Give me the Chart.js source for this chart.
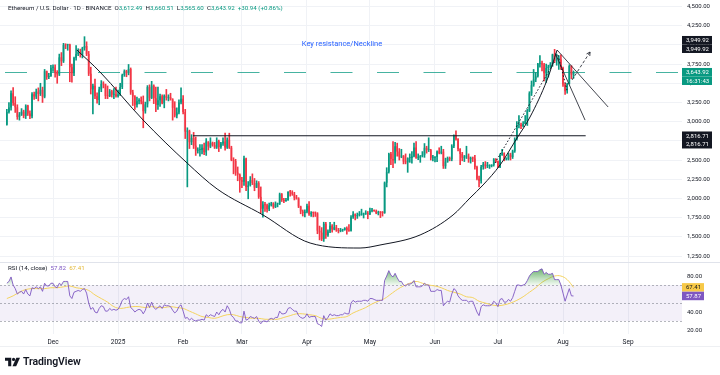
<!DOCTYPE html>
<html>
<head>
<meta charset="utf-8">
<script src="https://cdn.jsdelivr.net/npm/chart.js@4.4.1/dist/chart.umd.min.js"></script>
<style>
  html, body { margin: 0; padding: 0; background: #fff; }
  body { width: 720px; height: 375px; position: relative; overflow: hidden; font-family: Roboto, "Noto Sans", sans-serif; color: #131722; }
  #wrap { position: absolute; left: 0; top: 0; width: 720px; height: 348px; }
  .txt { position: absolute; white-space: nowrap; font-size: 6.2px; line-height: 8px; }
  .g { color: #089981; }
  #logo { position: absolute; left: 5px; top: 355px; display: flex; align-items: center; gap: 3px; font-size: 10.5px; font-weight: 600; letter-spacing: -0.1px; }
  #rule { position: absolute; left: 0; top: 346px; width: 720px; height: 1px; background: #eef0f3; }
</style>
</head>
<body>
<div id="wrap"><canvas id="chart"></canvas></div>
<div class="txt" style="left:8px; top:4px">Ethereum / U.S. Dollar · 1D · BINANCE &nbsp;O<span class="g">3,612.49</span> &nbsp;H<span class="g">3,660.51</span> &nbsp;L<span class="g">3,565.60</span> &nbsp;C<span class="g">3,643.92</span> &nbsp;<span class="g">+30.94 (+0.86%)</span></div>
<div class="txt" style="left:8px; top:264px">RSI (14, close) &nbsp;<span style="color:#7e57c2">57.82</span> &nbsp;<span style="color:#e3b836">67.41</span></div>
<div id="rule"></div>
<div id="logo">
  <svg width="15" height="10" viewBox="0 0 18 10"><path d="M0 0h7.5v10H3.8V3.6H0z" fill="#131722"/><circle cx="10.3" cy="1.9" r="1.9" fill="#131722"/><path d="M13.6 0H18l-4.6 10H9z" fill="#131722"/></svg>
  <span>TradingView</span>
</div>
<script>
const UP = '#089981';
const DOWN = '#f23645';

const startDate = '2024-11-09';
const monthStarts = ['2024-12-01', '2025-01-01', '2025-02-01', '2025-03-01', '2025-04-01', '2025-05-01', '2025-06-01', '2025-07-01', '2025-08-01', '2025-09-01'];
const monthLabels = ['Dec', '2025', 'Feb', 'Mar', 'Apr', 'May', 'Jun', 'Jul', 'Aug', 'Sep'];
const priceTicks = [1250, 1500, 1750, 2000, 2250, 2500, 2750, 3000, 3250, 3500, 3750, 4000, 4250, 4500];
const rsiTicks = [20, 40, 60, 80];
const rsiBands = [70, 50, 30];

// daily candles, Nov 9 2024 .. Aug 6 2025
const opens = [
  2960,3127,3183,3370,3244,3187,3060,3093,3131,3074,3209,3105,3071,3356,3327,3392,3361,3415,3325,3657,3581,3592,
  3703,3705,3643,3615,3838,3786,3998,3995,4005,3710,3630,3828,3880,3905,3876,3958,3986,3880,3625,3420,3468,3332,3281,3420,3492,3486,3335,3332,3396,3350,3357,
  3332,3354,3451,3607,3657,3634,3687,3380,3328,3221,3266,3283,3264,3136,3226,3450,3310,3470,3305,3216,3280,3330,3240,3338,3310,3318,3290,3180,3080,3120,3250,
  3300,3125,2870,2880,2732,2786,2687,2622,2630,2630,2660,2600,2740,2675,2725,2695,2663,2744,2670,2715,2740,2663,2765,2660,2500,2488,2336,2308,
  2237,2218,2520,2150,2170,2240,2200,2140,2200,2020,1865,1920,1910,1860,1910,1935,1890,1925,1930,2055,1980,1965,1980,2085,2080,2060,2010,2000,1895,1830,1810,
  1825,1905,1795,1815,1810,1805,1580,1555,1470,1670,1520,1570,1645,1595,1625,1585,1575,1585,1590,1615,1585,1580,1755,1795,1770,1785,1790,1790,1800,1800,
  1795,1840,1842,1835,1807,1816,1815,1810,2205,2346,2583,2515,2495,2680,2610,2545,2550,2480,2470,2525,2525,2550,2665,2530,2530,2550,2565,2660,2630,2630,2530,
  2530,2540,2610,2595,2610,2420,2480,2525,2510,2680,2815,2770,2645,2580,2530,2545,2545,2510,2525,2520,2410,2255,2230,2410,2445,2420,2420,2425,2435,2510,
  2485,2405,2570,2590,2510,2515,2570,2540,2615,2770,2955,2960,2945,2970,3010,3140,3370,3475,3550,3590,3755,3760,3745,3630,3700,3715,3745,3875,3795,3795,3810,
  3700,3485,3395,3495,3725,3612.49
];
const highs = [
  3160,3250,3400,3445,3325,3220,3120,3170,3150,3220,3215,3140,3380,3385,3425,3440,3500,3450,3680,3660,3630,3735,
  3740,3740,3665,3880,3900,4020,4015,4010,4010,3750,3840,3990,3950,3945,3970,4107,4040,3915,3710,3490,3555,3375,3450,3535,3520,3490,3465,3420,3410,3430,3450,
  3410,3500,3620,3675,3670,3745,3700,3410,3340,3320,3300,3325,3335,3255,3470,3480,3525,3480,3450,3450,3360,3350,3350,3420,3350,3370,3300,3260,3180,3285,3440,
  3340,3160,2920,2890,2830,2860,2800,2660,2700,2700,2720,2780,2740,2790,2735,2730,2790,2760,2730,2790,2850,2790,2850,2680,2530,2510,2410,2320,
  2275,2550,2525,2220,2285,2320,2260,2230,2220,2150,1960,1950,1925,1940,1950,1945,1955,1940,2070,2065,2000,2000,2090,2105,2100,2080,2040,2010,1900,1850,1850,
  1925,1960,1830,1825,1825,1815,1640,1620,1690,1690,1590,1690,1660,1690,1650,1610,1610,1600,1620,1630,1660,1775,1830,1800,1810,1830,1860,1810,1840,1830,
  1875,1870,1850,1850,1835,1830,1830,2215,2400,2590,2600,2740,2730,2720,2650,2640,2560,2580,2530,2580,2610,2720,2740,2580,2560,2610,2715,2680,2790,2640,2560,
  2545,2620,2660,2680,2640,2525,2540,2540,2700,2830,2880,2780,2650,2600,2560,2680,2580,2540,2540,2560,2420,2290,2430,2470,2480,2470,2440,2440,2520,2520,
  2490,2580,2640,2595,2530,2590,2590,2630,2790,3000,3080,2980,3000,3080,3160,3390,3530,3680,3640,3760,3860,3790,3760,3750,3735,3770,3880,3942,3880,3860,3870,
  3710,3500,3500,3740,3730,3660.51
];
const lows = [
  2955,3110,3150,3210,3120,3030,3020,3080,3050,3040,3080,3040,3050,3290,3300,3270,3340,3250,3310,3550,3560,3590,
  3655,3580,3500,3600,3730,3770,3950,3930,3520,3515,3600,3800,3860,3840,3830,3930,3860,3600,3360,3100,3300,3240,3220,3390,3440,3300,3300,3325,3320,3300,3320,
  3320,3340,3430,3590,3585,3610,3355,3210,3160,3190,3230,3230,2920,3110,3190,3270,3300,3235,3130,3160,3200,3230,3180,3280,3270,3280,3020,3060,3050,3100,3230,
  3100,2780,2150,2650,2700,2650,2560,2590,2550,2580,2570,2560,2630,2660,2680,2650,2650,2610,2650,2690,2630,2650,2650,2490,2320,2300,2230,2080,
  2140,2170,2100,1995,2160,2180,2100,2140,2000,1810,1755,1830,1820,1840,1900,1870,1880,1890,1920,1960,1945,1960,1975,2030,2040,1980,1990,1880,1800,1770,1760,
  1810,1780,1765,1760,1765,1540,1460,1450,1440,1480,1505,1555,1560,1590,1570,1550,1565,1570,1585,1535,1570,1575,1740,1720,1740,1770,1780,1745,1790,1735,
  1790,1825,1830,1800,1785,1750,1770,1805,2150,2330,2440,2400,2460,2550,2500,2530,2450,2450,2340,2470,2460,2540,2520,2505,2470,2540,2535,2590,2610,2500,2490,
  2475,2480,2580,2580,2390,2390,2470,2490,2490,2660,2760,2620,2440,2490,2480,2520,2470,2460,2480,2380,2240,2150,2200,2380,2390,2400,2390,2410,2420,2470,
  2400,2400,2560,2490,2500,2500,2500,2520,2600,2760,2920,2910,2930,2970,2950,3130,3340,3460,3520,3580,3710,3660,3530,3510,3580,3700,3720,3770,3735,3680,3680,
  3460,3355,3370,3490,3560,3565.60
];
const closes = [
  3127,3183,3370,3244,3187,3060,3093,3131,3074,3209,3105,3071,3356,3327,3392,3361,3415,3325,3657,3581,3592,3703,
  3705,3643,3615,3838,3786,3998,3995,4005,3710,3630,3828,3880,3905,3876,3958,3986,3880,3625,3420,3468,3332,3281,3420,3492,3486,3335,3332,3396,3350,3357,3332,
  3354,3451,3607,3657,3634,3687,3380,3328,3221,3266,3283,3264,3136,3226,3450,3310,3470,3305,3216,3280,3330,3240,3338,3310,3318,3290,3180,3080,3120,3250,3300,
  3125,2870,2880,2732,2786,2687,2622,2630,2630,2660,2600,2740,2675,2725,2695,2663,2744,2670,2715,2740,2663,2765,2660,2500,2488,2336,2308,2237,
  2218,2520,2150,2170,2240,2200,2140,2200,2020,1865,1920,1910,1860,1910,1935,1890,1925,1930,2055,1980,1965,1980,2085,2080,2060,2010,2000,1895,1830,1810,1825,
  1905,1795,1815,1810,1805,1580,1555,1470,1670,1520,1570,1645,1595,1625,1585,1575,1585,1590,1615,1585,1580,1755,1795,1770,1785,1790,1790,1800,1800,1795,
  1840,1842,1835,1807,1816,1815,1810,2205,2346,2583,2515,2495,2680,2610,2545,2550,2480,2470,2525,2525,2550,2665,2530,2530,2550,2565,2660,2630,2630,2530,2530,
  2540,2610,2595,2610,2420,2480,2525,2510,2680,2815,2770,2645,2580,2530,2545,2545,2510,2525,2520,2410,2255,2230,2410,2445,2420,2420,2425,2435,2510,2485,
  2405,2570,2590,2510,2515,2570,2540,2615,2770,2955,2960,2945,2970,3010,3140,3370,3475,3550,3590,3755,3760,3745,3630,3700,3715,3745,3875,3795,3795,3810,3700,
  3485,3395,3495,3725,3612.49,3643.92
];

// RSI(14) per day, and its moving average read every third day
const rsiValues = [
  72,74,79,70,66,60,62,63,60,65,60,58,67,66,68,66,68,63,72,69,69,72,
  72,68,67,72,70,74,74,74,58,55,62,63,64,63,65,66,61,50,43,45,40,39,44,47,46,41,41,44,42,43,42,
  43,47,53,55,54,57,45,43,40,42,43,42,38,42,50,45,51,45,43,45,47,44,48,47,47,46,42,39,41,46,48,
  41,33,34,31,33,31,30,31,31,32,31,37,35,37,36,35,40,37,41,43,40,47,43,36,34,30,30,28,
  28,41,31,32,35,34,33,35,30,27,30,30,29,32,33,32,34,34,41,38,38,39,44,45,43,41,41,36,34,33,34,
  38,34,35,35,35,27,26,24,36,31,34,38,36,37,36,36,37,37,39,38,38,50,53,51,52,52,52,53,53,52,
  55,55,54,53,53,53,53,75,80,86,81,79,83,78,74,74,70,69,71,71,72,75,68,68,68,69,72,70,70,63,63,
  63,65,64,64,47,50,52,51,60,66,64,58,55,53,53,53,51,52,52,46,40,36,46,48,47,47,47,48,52,50,
  46,54,55,51,51,54,52,56,63,70,70,69,70,71,75,80,83,85,85,85,87,88,82,84,82,82,83,76,76,76,70,
  61,52,59,66,58,57.87
];
const rsiMaStep = 3;
const rsiMa = [
  55,58,62,65,66,66,66,67,67,68, 69,67,66,64,59,55,51,46,44,45,
  46,46,45,46,45,45,46,45,44,41, 38,35,34,33,35,37,37,35,34,33,
  33,32,32,32,34,36,38,38,37,36, 33,32,33,34,35,39,42,45,49,52,
  55,60,65,69,72,74,72,70,69,67, 64,62,60,57,56,52,50,48,47,48,
  50,53,57,62,67,73,77,80,80,76, 67.41
];

// drawings (day offset from startDate, price)
const cupDays   = [33.4, 44.4, 64.9, 85.9, 100.2, 122.1, 144.5, 168.3, 177.8, 196.9, 212.6, 220.7, 226.9, 235.0, 243.1, 249.3, 257.4, 262.2];
const cupPrices = [3933, 3647, 3022, 2461, 2123, 1784, 1419, 1354, 1393, 1524, 1784, 2006, 2175, 2435, 2787, 3061, 3543, 3933];
const necklineDays = [88.7, 275.8];
const necklinePrice = 2816.71;
const innerDays = [232.6, 261.3];
const innerPrices = [2461, 3800];
const forkUpperDays = [262.2, 286.5];
const forkUpperPrices = [3933, 3191];
const forkLowerDays = [261.3, 275.5];
const forkLowerPrices = [3890, 3021];
const dropDays = [262.6, 266.9];
const dropPrices = [3868, 3412];
const arrowDays = [269.3, 277.9];
const arrowPrices = [3543, 3907];
const noteText = 'Key resistance/Neckline';
const noteDay = 159.7;
const notePrice = 4012;
const priceTags = [
  { value: 3949.92, bg: '#131722', rows: -1 },
  { value: 3643.92, bg: UP, rows: 1, second: '16:31:43' },
  { value: 2816.71, bg: '#131722', rows: 1 }
];

const DAY = 86400000;
const dayOf = s => (Date.parse(s) - Date.parse(startDate)) / DAY;
const monthPos = monthStarts.map(dayOf);
const fmt = v => v.toLocaleString('en-US', { minimumFractionDigits: 2, maximumFractionDigits: 2 });
const pts = (xs, ys) => xs.map((d, k) => ({ x: d, y: Array.isArray(ys) ? ys[k] : ys }));

const bodyData = closes.map((c, k) => ({ x: k, y: [opens[k], c] }));
const wickData = closes.map((c, k) => ({ x: k, y: [lows[k], highs[k]] }));
const candleColors = closes.map((c, k) => (c >= opens[k] ? UP : DOWN));
const rsiData = rsiValues.map((v, k) => ({ x: k, y: v }));
const rsiMaData = rsiMa.map((v, k) => ({ x: k * rsiMaStep, y: v }));

const FONT = { family: 'Roboto', size: 6 };
const lineDs = (data, extra) => Object.assign({
  type: 'line', data, yAxisID: 'y', borderColor: '#131722', borderWidth: 1,
  pointRadius: 0, fill: false, order: 0
}, extra);

// no label overflow padding, fixed axis sizes
const fitAxis = (w, h) => s => {
  if (w) s.width = w;
  if (h) s.height = h;
  s.paddingTop = 0; s.paddingBottom = 0; s.paddingLeft = 0; s.paddingRight = 0;
};

const overlays = {
  id: 'overlays',
  beforeDatasetsDraw(chart) {
    const { ctx, chartArea: a, scales: { y, rsi } } = chart;
    ctx.save();
    const t = rsi.getPixelForValue(rsiBands[0]);
    const b = rsi.getPixelForValue(rsiBands[2]);
    ctx.fillStyle = 'rgba(126,87,194,0.09)';
    ctx.fillRect(a.left, t, a.right - a.left, b - t);
    ctx.strokeStyle = 'rgba(120,123,134,0.55)';
    ctx.lineWidth = 1;
    ctx.setLineDash([2, 2]);
    rsiBands.forEach(v => {
      const py = Math.round(rsi.getPixelForValue(v)) + 0.5;
      ctx.beginPath(); ctx.moveTo(a.left, py); ctx.lineTo(a.right, py); ctx.stroke();
    });
    const last = closes.length - 1;
    const py = Math.round(y.getPixelForValue(closes[last])) + 0.5;
    ctx.strokeStyle = 'rgba(8,153,129,0.75)';
    ctx.setLineDash([22, 24.5]);
    ctx.lineDashOffset = -5;
    ctx.beginPath(); ctx.moveTo(a.left, py); ctx.lineTo(a.right, py); ctx.stroke();
    ctx.restore();
  },
  afterDatasetsDraw(chart) {
    const { ctx, scales: { x, y } } = chart;
    ctx.save();
    const x0 = x.getPixelForValue(arrowDays[0]), y0 = y.getPixelForValue(arrowPrices[0]);
    const x1 = x.getPixelForValue(arrowDays[1]), y1 = y.getPixelForValue(arrowPrices[1]);
    const ang = Math.atan2(y1 - y0, x1 - x0);
    ctx.strokeStyle = '#131722';
    ctx.lineWidth = 0.8;
    ctx.beginPath();
    [-0.5, 0.5].forEach(o => {
      ctx.moveTo(x1, y1);
      ctx.lineTo(x1 - 4 * Math.cos(ang + o), y1 - 4 * Math.sin(ang + o));
    });
    ctx.stroke();
    ctx.fillStyle = '#2962ff';
    ctx.font = '7.5px Roboto';
    ctx.textAlign = 'center';
    ctx.textBaseline = 'middle';
    ctx.fillText(noteText, x.getPixelForValue(noteDay), y.getPixelForValue(notePrice));
    ctx.restore();
  },
  afterDraw(chart) {
    const { ctx, chartArea: a, scales: { y, rsi } } = chart;
    ctx.save();
    ctx.strokeStyle = '#e0e3eb';
    ctx.lineWidth = 1;
    const sy = Math.round(rsi.top) + 0.5;
    ctx.beginPath(); ctx.moveTo(0, sy); ctx.lineTo(chart.width, sy); ctx.stroke();

    ctx.font = '6px Roboto';
    ctx.textBaseline = 'middle';
    ctx.textAlign = 'left';
    const rowH = 8.5;
    const tag = (cy, text, bg, fg, w) => {
      ctx.fillStyle = bg;
      ctx.fillRect(a.right, cy - rowH / 2, w, rowH);
      ctx.fillStyle = fg;
      ctx.fillText(text, a.right + 4, cy + 0.3);
    };
    priceTags.forEach(p => {
      const cy = y.getPixelForValue(p.value);
      tag(cy, fmt(p.value), p.bg, '#fff', 30);
      tag(cy + p.rows * rowH, p.second || fmt(p.value), p.bg, '#fff', 30);
    });
    const maLast = rsiMa[rsiMa.length - 1];
    const rsiLast = rsiValues[rsiValues.length - 1];
    tag(rsi.getPixelForValue(maLast), fmt(maLast), '#f7c948', '#131722', 22);
    tag(rsi.getPixelForValue(rsiLast), fmt(rsiLast), '#7e57c2', '#fff', 22);
    ctx.restore();
  }
};

new Chart(document.getElementById('chart'), {
  type: 'bar',
  data: {
    datasets: [
      { type: 'bar', data: wickData, yAxisID: 'y', backgroundColor: candleColors, barThickness: 1, grouped: false, order: 6 },
      { type: 'bar', data: bodyData, yAxisID: 'y', backgroundColor: candleColors, barPercentage: 0.95, categoryPercentage: 0.8, minBarLength: 1, grouped: false, order: 5 },
      lineDs(pts(cupDays, cupPrices), { cubicInterpolationMode: 'monotone' }),
      lineDs(pts(necklineDays, necklinePrice), { borderWidth: 1.1 }),
      lineDs(pts(innerDays, innerPrices), { borderDash: [1.5, 2] }),
      lineDs(pts(forkUpperDays, forkUpperPrices), { borderWidth: 0.8 }),
      lineDs(pts(forkLowerDays, forkLowerPrices), { borderWidth: 0.8 }),
      lineDs(pts(dropDays, dropPrices), { borderDash: [1.5, 2] }),
      lineDs(pts(arrowDays, arrowPrices), { borderDash: [3, 2], borderWidth: 0.8 }),
      {
        type: 'line', data: rsiMaData, yAxisID: 'rsi', borderColor: '#f4d35e', borderWidth: 1,
        pointRadius: 0, tension: 0.4, fill: false, order: 2
      },
      {
        type: 'line', data: rsiData, yAxisID: 'rsi', borderColor: '#7e57c2', borderWidth: 0.9,
        pointRadius: 0, tension: 0, order: 1,
        fill: { target: { value: rsiBands[0] }, below: 'rgba(0,0,0,0)' },
        backgroundColor: c => {
          const { chart } = c;
          const s = chart.scales.rsi;
          if (!chart.chartArea || !s) return 'rgba(76,175,80,0.4)';
          const g = chart.ctx.createLinearGradient(0, s.getPixelForValue(92), 0, s.getPixelForValue(rsiBands[0]));
          g.addColorStop(0, 'rgba(56,142,60,0.9)');
          g.addColorStop(1, 'rgba(76,175,80,0.08)');
          return g;
        }
      }
    ]
  },
  options: {
    responsive: true,
    maintainAspectRatio: false,
    animation: false,
    events: [],
    layout: { padding: 0 },
    plugins: { legend: { display: false }, tooltip: { enabled: false } },
    scales: {
      x: {
        type: 'linear', min: -3.26, max: 321.7, offset: false,
        grid: { color: '#f0f2f6', drawTicks: false, offset: false },
        border: { display: false },
        afterBuildTicks: s => { s.ticks = monthPos.map(v => ({ value: v })); },
        ticks: {
          autoSkip: false, maxRotation: 0, padding: 4, color: '#131722', font: { family: 'Roboto', size: 6.5 },
          callback: (v, i) => monthLabels[i]
        },
        afterFit: fitAxis(0, 14)
      },
      y: {
        type: 'linear', position: 'right', stack: 'panes', stackWeight: 262,
        min: 1171.9, max: 4584.7,
        grid: { color: '#f0f2f6', drawTicks: false },
        border: { display: false },
        afterBuildTicks: s => { s.ticks = priceTicks.map(v => ({ value: v })); },
        ticks: { padding: 5, color: '#131722', font: FONT, callback: v => fmt(v) },
        afterFit: fitAxis(38, 0)
      },
      rsi: {
        type: 'linear', position: 'right', stack: 'panes', stackWeight: 72,
        min: 15.6, max: 95.6,
        grid: { display: false, drawTicks: false },
        border: { display: false },
        afterBuildTicks: s => { s.ticks = rsiTicks.map(v => ({ value: v })); },
        ticks: { padding: 5, color: '#131722', font: FONT, callback: v => fmt(v) },
        afterFit: fitAxis(38, 0)
      }
    }
  },
  plugins: [overlays]
});
</script>
</body>
</html>
